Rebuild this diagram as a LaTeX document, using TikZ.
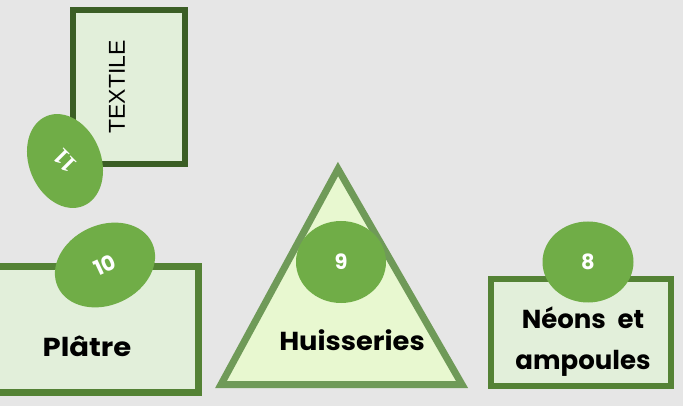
\documentclass[tikz,border=0pt]{standalone}
\usepackage{fontspec}
\setmainfont{Liberation Serif}
\newfontfamily\comicf{Poppins}
\newfontfamily\arialf{Liberation Sans}
\usetikzlibrary{shapes.geometric}
\definecolor{bgc}{HTML}{E6E6E6}
\definecolor{lightg}{HTML}{E2EFDA}
\definecolor{darkg}{HTML}{3B5E25}
\definecolor{midg}{HTML}{548235}
\definecolor{trig}{HTML}{6F9A58}
\definecolor{trifill}{HTML}{E8F8D0}
\definecolor{ellg}{HTML}{70AD47}
\tikzset{
  boxshape/.style={draw=midg, fill=lightg, line width=7pt, inner sep=0pt},
  bubble/.style={ellipse, fill=ellg, draw=none, inner sep=0pt, text=white, font=\comicf\bfseries\fontsize{21}{24}\selectfont},
  labtext/.style={text=black, font=\comicf\bfseries\fontsize{26}{30}\selectfont, inner sep=0pt}
}
\begin{document}
\begin{tikzpicture}[x=1pt,y=-1pt]
\fill[bgc] (0,0) rectangle (683,406);
\useasboundingbox (0,0) rectangle (683,406);

% TEXTILE
\node[boxshape, draw=darkg, line width=6pt, minimum width=112pt, minimum height=154pt] (textile) at (129,87) {};
\node[rotate=90, font=\arialf\fontsize{23}{26}\selectfont, inner sep=0pt] (textilelab) at (117,87) {TEXTILE};
\node[bubble, minimum width=72pt, minimum height=97pt, rotate=22, font=\rmfamily\bfseries\fontsize{24}{26}\selectfont] (b11) at (65,161) {\rotatebox{113}{11}};

% Platre
\node[boxshape, minimum width=208.5pt, minimum height=126pt] (platre) at (94.25,329.5) {};
\node[bubble, minimum width=104pt, minimum height=80pt, rotate=25] (b10) at (105,265) {10};
\node[labtext, xscale=1.12] (platrelab) at (87,346) {Plâtre};

% Huisseries
\coordinate (tA) at (338,169);
\coordinate (tB) at (221,384.5);
\coordinate (tC) at (462,384.5);
\draw[draw=trig, fill=trifill, line width=7pt, line join=miter] (tA) -- (tB) -- (tC) -- cycle;
\node[bubble, minimum width=90pt, minimum height=82pt] (b9) at (341,262) {9};
\node[labtext, xscale=1.05] (huislab) at (352,340) {Huisseries};

% Neons
\node[boxshape, line width=6pt, minimum width=180pt, minimum height=107pt] (neons) at (581,332.5) {};
\node[bubble, minimum width=91pt, minimum height=81pt] (b8) at (588,262) {8};
\node[labtext] (neonslab1) at (583,318) {Néons\hspace{0.45em}et};
\node[labtext] (neonslab2) at (583,363) {ampoules};
\end{tikzpicture}
\end{document}
